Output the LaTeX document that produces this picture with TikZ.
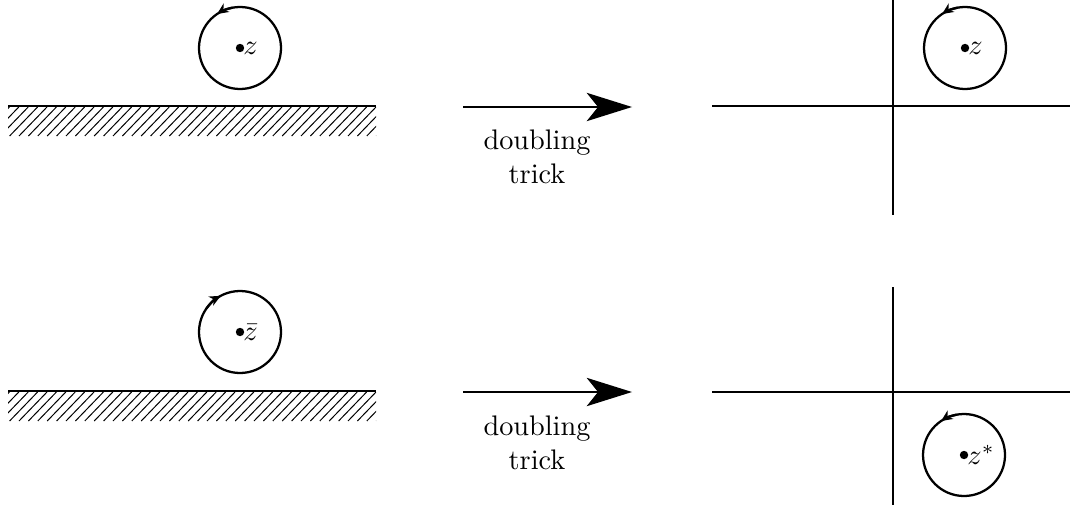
\documentclass[tikz,border=0pt]{standalone}
\usetikzlibrary{arrows.meta,calc}
\begin{document}
\begin{tikzpicture}[x=0.3534pt,y=-0.3534pt,
  axisline/.style={line width=0.8pt},
  loopc/.style={line width=0.8pt},
  bigarrow/.style={line width=0.8pt,-{Stealth[length=16pt,width=10pt,inset=4pt]}},
  smalltip/.style={line width=0.8pt,-{Stealth[length=4pt,width=3.6pt]}},
  lbl/.style={inner sep=1pt,anchor=west},
  caption/.style={align=center,inner sep=0pt}]
\useasboundingbox (0,0) rectangle (1078,507);
% ---------- top row ----------
\coordinate (tl1) at (8,106); \coordinate (tl2) at (376,106);
\draw[axisline] (tl1) -- (tl2);
\begin{scope}
\clip (8,107) rectangle (376,136);
\foreach \x in {0,9.4,...,420} \draw[line width=0.35pt] (\x-28,136) -- (\x,107);
\end{scope}
\coordinate (c1) at (240,48);
\draw[loopc] (c1) circle[radius=41];
\draw[smalltip] ($(c1)+(-100:41)$) arc[start angle=-100,end angle=-124,radius=41] ;
\fill (c1) circle[radius=4.2] node[lbl] (z1) {$z$};
\coordinate (a1s) at (463,107); \coordinate (a1e) at (632,107);
\draw[bigarrow] (a1s) -- (a1e);
\node[caption] (t1) at (537,157) {doubling\\trick};
\coordinate (h1a) at (712,106); \coordinate (h1b) at (1070,106);
\draw[axisline] (h1a) -- (h1b);
\coordinate (v1a) at (893,0); \coordinate (v1b) at (893,215);
\draw[axisline] (v1a) -- (v1b);
\coordinate (c2) at (965,48);
\draw[loopc] (c2) circle[radius=41];
\draw[smalltip] ($(c2)+(-100:41)$) arc[start angle=-100,end angle=-124,radius=41];
\fill (c2) circle[radius=4.2] node[lbl] (z2) {$z$};
% ---------- bottom row ----------
\coordinate (bl1) at (8,391); \coordinate (bl2) at (376,391);
\draw[axisline] (bl1) -- (bl2);
\begin{scope}
\clip (8,392) rectangle (376,421);
\foreach \x in {0,9.4,...,420} \draw[line width=0.35pt] (\x-28,421) -- (\x,392);
\end{scope}
\coordinate (c3) at (240,332);
\draw[loopc] (c3) circle[radius=41];
\draw[smalltip] ($(c3)+(-145:41)$) arc[start angle=-145,end angle=-118,radius=41];
\fill (c3) circle[radius=4.2] node[lbl] (z3) {$\bar z$};
\coordinate (a2s) at (463,392); \coordinate (a2e) at (632,392);
\draw[bigarrow] (a2s) -- (a2e);
\node[caption] (t2) at (537,443) {doubling\\trick};
\coordinate (h2a) at (712,392); \coordinate (h2b) at (1070,392);
\draw[axisline] (h2a) -- (h2b);
\coordinate (v2a) at (893,287); \coordinate (v2b) at (893,505);
\draw[axisline] (v2a) -- (v2b);
\coordinate (c4) at (964,455);
\draw[loopc] (c4) circle[radius=41];
\draw[smalltip] ($(c4)+(-100:41)$) arc[start angle=-100,end angle=-124,radius=41];
\fill (c4) circle[radius=4.2] node[lbl] (z4) {$z^*$};
\end{tikzpicture}
\end{document}
